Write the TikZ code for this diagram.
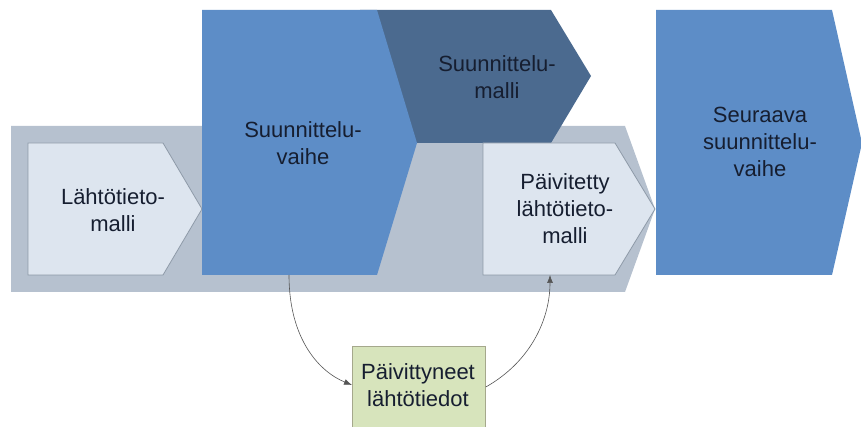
\documentclass[tikz,border=0pt]{standalone}
\usepackage{fontspec}
\setmainfont{Liberation Sans}
\usetikzlibrary{arrows.meta}
\definecolor{bandgray}{RGB}{182,193,207}
\definecolor{lightfill}{RGB}{221,229,239}
\definecolor{lightedge}{RGB}{142,154,168}
\definecolor{midblue}{RGB}{93,141,199}
\definecolor{darkblue}{RGB}{75,106,143}
\definecolor{greenfill}{RGB}{215,228,188}
\definecolor{greenedge}{RGB}{165,168,140}
\definecolor{txt}{RGB}{22,30,48}
\definecolor{linegray}{RGB}{85,85,85}
\tikzset{
  lbl/.style={text=txt, align=center, font=\fontsize{22}{27}\selectfont},
  lightchev/.style={fill=lightfill, draw=lightedge, line width=0.8pt},
  conn/.style={draw=linegray, line width=0.6pt, -{Latex[length=8pt,width=6pt]}}
}
\begin{document}
\begin{tikzpicture}[x=1pt,y=-1pt]
\useasboundingbox (0,0) rectangle (861,427);
\clip (0,0) rectangle (861,427);
% background band
\fill[bandgray] (11,126) -- (625,126) -- (655,209) -- (625,292) -- (11,292) -- cycle;
% Lahtotietomalli
\path[lightchev] (28,143) -- (163,143) -- (202,209) -- (163,275) -- (28,275) -- cycle;
\node[lbl] (ltm) at (113,210) {Lähtötieto-\\malli};
% Suunnittelumalli (dark)
\fill[darkblue] (360,10) -- (551,10) -- (591,76) -- (551,143) -- (360,143) -- cycle;
\node[lbl] (sm) at (497,77) {Suunnittelu-\\malli};
% Suunnitteluvaihe
\fill[midblue] (202,10) -- (377,10) -- (417,143) -- (377,275) -- (202,275) -- cycle;
\node[lbl] (sv) at (303,143) {Suunnittelu-\\vaihe};
% Paivitetty
\path[lightchev] (483,143) -- (615,143) -- (655,209) -- (615,275) -- (483,275) -- cycle;
\node[lbl] (pl) at (565,209) {Päivitetty\\lähtötieto-\\malli};
% Seuraava
\fill[midblue] (656,10) -- (832,10) -- (862,143) -- (832,275) -- (656,275) -- cycle;
\node[lbl] (ss) at (760,142) {Seuraava\\suunnittelu-\\vaihe};
% green box
\node[fill=greenfill, draw=greenedge, line width=0.8pt, minimum width=133pt, minimum height=90pt, inner sep=0pt, anchor=north west] (gr) at (352,346) {};
\node[lbl] (grt) at (418,385) {Päivittyneet\\lähtötiedot};
% connectors
\coordinate (svb) at (289,275);
\coordinate (plb) at (550,275);
\draw[conn] (svb) .. controls (289,340) and (320,372) .. (gr.west |- 0,385);
\draw[conn] (gr.east |- 0,387) .. controls (530,362) and (550,320) .. (plb);
\end{tikzpicture}
\end{document}
